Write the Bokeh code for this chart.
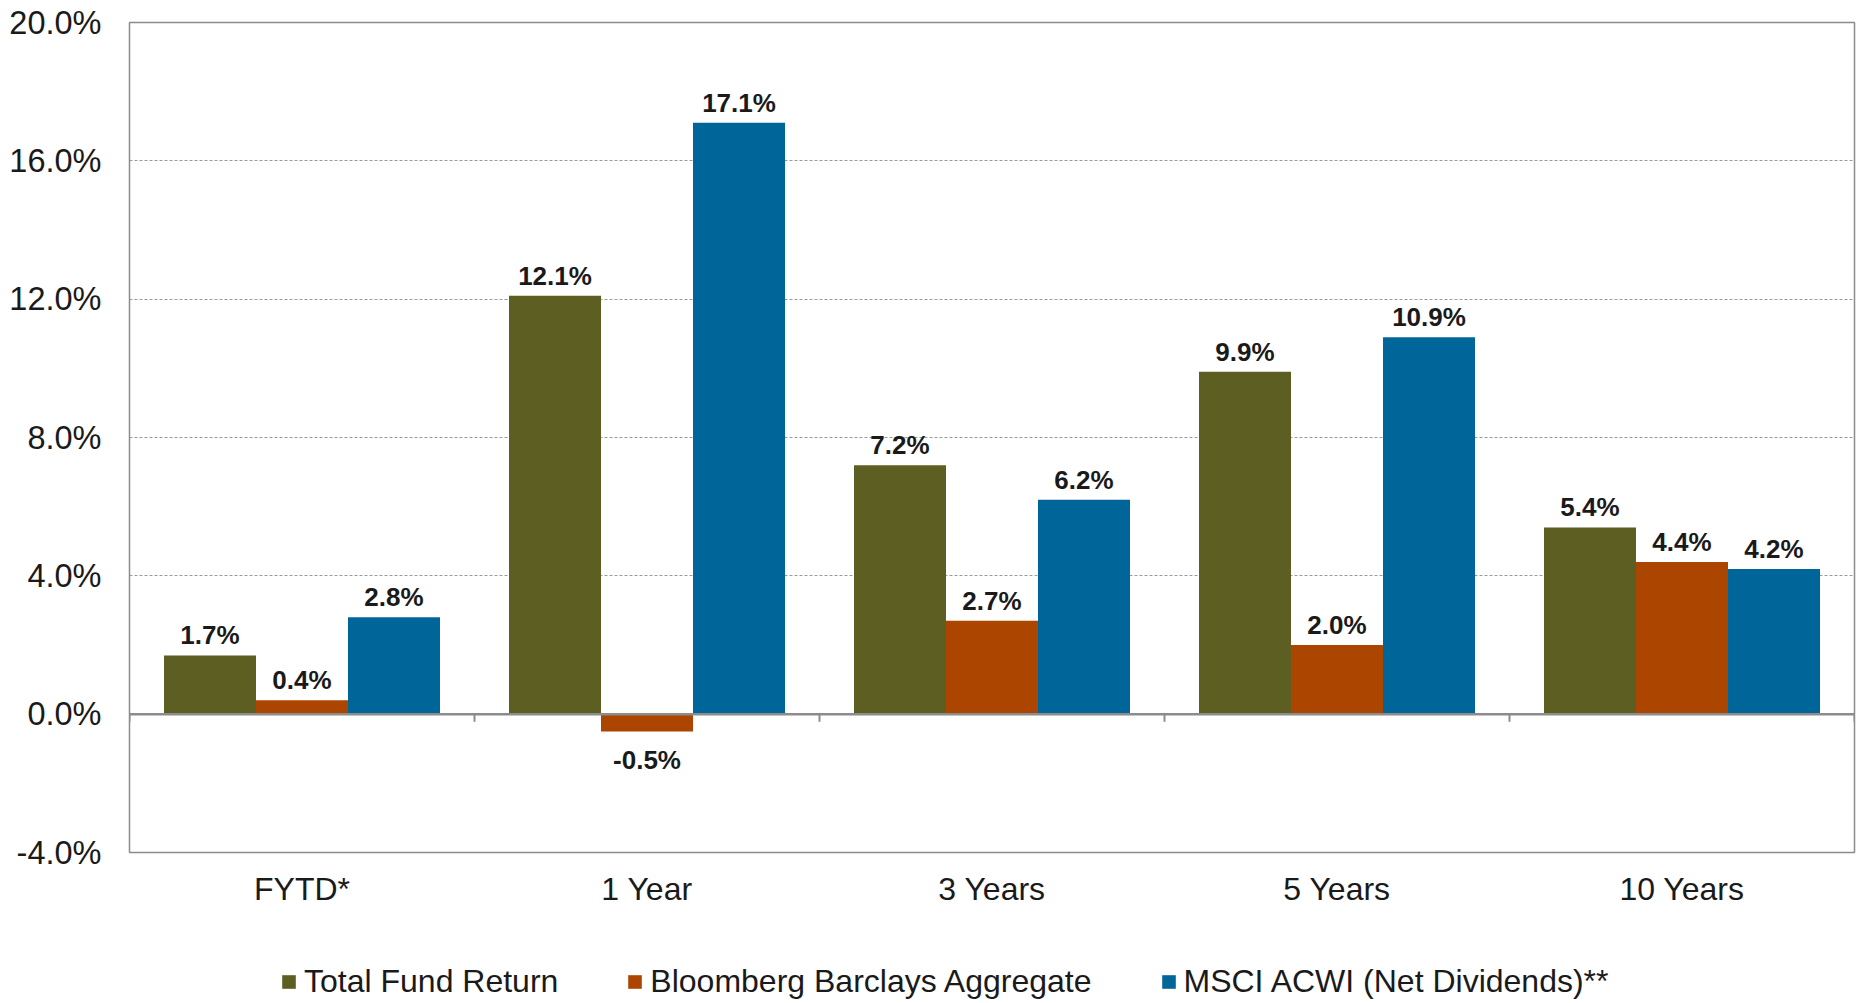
from bokeh.plotting import figure
from bokeh.layouts import column
from bokeh.models import (ColumnDataSource, Range1d, FactorRange, FixedTicker, PrintfTickFormatter,
                          Span, Legend, LegendItem)
from bokeh.transform import dodge
from bokeh.core.properties import value
from bokeh.embed import file_html
from bokeh.resources import INLINE

categories = ["FYTD*", "1 Year", "3 Years", "5 Years", "10 Years"]
series_names = ["Total Fund Return", "Bloomberg Barclays Aggregate", "MSCI ACWI (Net Dividends)**"]
total_fund = [1.7, 12.1, 7.2, 9.9, 5.4]
bloomberg = [0.4, -0.5, 2.7, 2.0, 4.4]
msci = [2.8, 17.1, 6.2, 10.9, 4.2]
y_ticks = [-4, 0, 4, 8, 12, 16, 20]

colors = ["#5C5E22", "#AB4500", "#006699"]
FONT = "Liberation Sans"
W = 1856

p = figure(x_range=FactorRange(*categories, range_padding=0), y_range=Range1d(-4, 20),
           width=W, height=930, output_backend="svg", toolbar_location=None,
           min_border_left=129, min_border_right=2, min_border_top=22, min_border_bottom=78)

bw = 0.8 / 3
offsets = [-bw, 0, bw]
series = [total_fund, bloomberg, msci]
for name, vals, off, col in zip(series_names, series, offsets, colors):
    src = ColumnDataSource(dict(
        cat=categories, val=vals,
        lbl=[f"{v:.1f}%" for v in vals],
        yoff=[-20 if v >= 0 else 29 for v in vals]))
    p.vbar(x=dodge("cat", off, range=p.x_range), top="val", bottom=0, width=bw,
           source=src, fill_color=col, line_color=None)
    p.text(x=dodge("cat", off, range=p.x_range), y="val", text="lbl", y_offset="yoff",
           source=src, text_font=value(FONT), text_font_size="26px", text_font_style="bold",
           text_align="center", text_baseline="middle", text_color="#1a1a1a")

# zero line and boundary ticks
p.add_layout(Span(location=0, dimension="width", line_color="#8c8c8c", line_width=2.5))
bounds = [(categories[0], -0.5)] + [(c, 0.5) for c in categories]
p.segment(x0=bounds, x1=bounds, y0=[0] * len(bounds), y1=[-0.22] * len(bounds),
          line_color="#8c8c8c", line_width=2)

# axes
p.yaxis.ticker = FixedTicker(ticks=y_ticks)
p.yaxis.formatter = PrintfTickFormatter(format="%.1f%%")
p.yaxis.major_label_text_font = FONT
p.yaxis.major_label_text_font_size = "32.5px"
p.yaxis.major_label_text_color = "#1a1a1a"
p.yaxis.major_tick_line_color = None
p.yaxis.minor_tick_line_color = None
p.yaxis.axis_line_color = "#8c8c8c"
p.yaxis.major_label_standoff = 22

p.xaxis.major_label_text_font = FONT
p.xaxis.major_label_text_font_size = "32px"
p.xaxis.major_label_text_color = "#1a1a1a"
p.xaxis.major_tick_line_color = None
p.xaxis.axis_line_color = None
p.xaxis.major_label_standoff = 12

p.xgrid.grid_line_color = None
p.ygrid.ticker = FixedTicker(ticks=y_ticks)
p.ygrid.grid_line_color = "#9a9a9a"
p.ygrid.grid_line_dash = "3 2"
p.ygrid.grid_line_width = 1

p.outline_line_color = "#8c8c8c"
p.outline_line_width = 1.5
p.background_fill_color = "white"
p.border_fill_color = "white"

# legend in its own strip below the chart
lg = figure(width=W, height=70, output_backend="svg", toolbar_location=None,
            x_range=Range1d(0, 1), y_range=Range1d(0, 1),
            x_axis_location=None, y_axis_location=None,
            min_border_left=0, min_border_right=0, min_border_top=0, min_border_bottom=0)
lg.grid.grid_line_color = None
lg.outline_line_color = None
items = []
for name, col in zip(series_names, colors):
    # one off-screen bar per series, used only for its legend swatch
    r = lg.vbar(x=[-5], top=[-5], width=1, fill_color=col, line_color=None)
    items.append(LegendItem(label=name, renderers=[r]))
legend = Legend(items=items, orientation="horizontal", location=(151, 0), spacing=68,
                label_text_font=FONT, label_text_font_size="32px", label_text_color="#1a1a1a",
                glyph_width=17, glyph_height=17, label_standoff=7, label_height=37,
                padding=0, margin=0, border_line_color=None, background_fill_alpha=0)
lg.add_layout(legend, "center")

layout = column(p, lg, spacing=0)
open("out.html", "w").write(file_html(layout, INLINE))
